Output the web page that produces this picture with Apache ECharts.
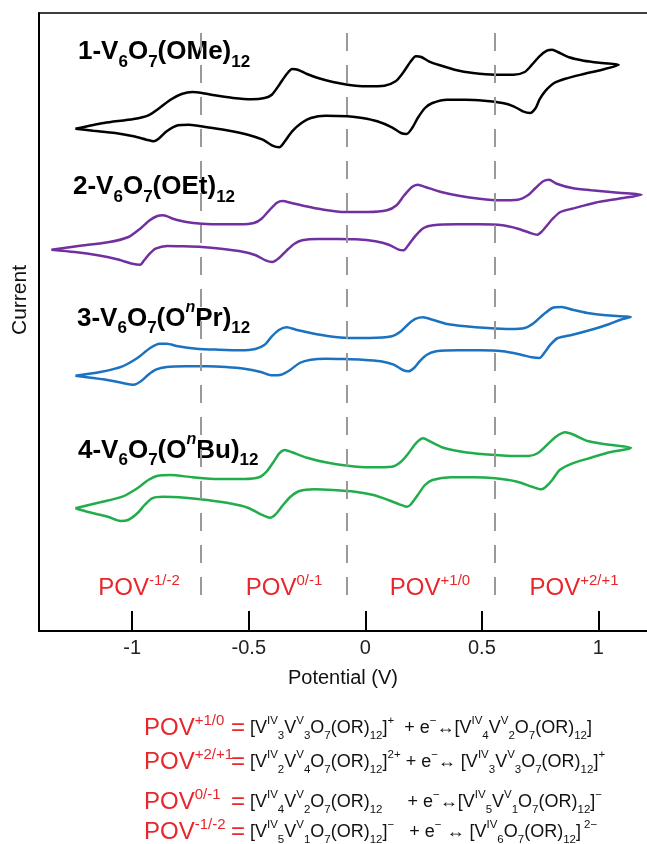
<!DOCTYPE html>
<html>
<head>
<meta charset="utf-8">
<script src="https://cdn.jsdelivr.net/npm/echarts@6/dist/echarts.min.js"></script>
<style>
  html, body { margin: 0; padding: 0; background: #fff; }
  #chart { width: 647px; height: 844px; }
</style>
</head>
<body>
<div id="chart"></div>
<script>
// cyclic voltammograms, [potential (V), current (a.u., curves offset)]
const ome = [[-1.244,499.3],[-1.121,505],[-0.994,509],[-0.931,512.7],[-0.883,520],[-0.836,528.3],[-0.788,534],[-0.741,536],[-0.701,535],[-0.646,532.7],[-0.567,530],[-0.488,528.7],[-0.432,530],[-0.401,533.3],[-0.369,543.3],[-0.337,554],[-0.314,559],[-0.290,558.3],[-0.250,554],[-0.203,550],[-0.139,546],[-0.076,543.3],[0.003,541.7],[0.082,542.3],[0.130,546.7],[0.161,555],[0.193,566],[0.217,571.7],[0.240,571],[0.272,566.7],[0.320,562.7],[0.383,558.3],[0.462,555],[0.557,553.3],[0.636,553.3],[0.684,556],[0.715,563.3],[0.747,571.7],[0.779,577.3],[0.802,578.3],[0.826,576],[0.874,570.7],[0.937,567.3],[1.016,565],[1.087,563.3],
  [1.016,558.3],[0.937,554],[0.858,549.3],[0.810,545],[0.771,536.7],[0.747,528.3],[0.731,520],[0.707,515],[0.676,516.7],[0.636,521.7],[0.589,525],[0.510,527.3],[0.430,528.3],[0.351,528.3],[0.288,525],[0.256,520],[0.225,510],[0.201,500],[0.177,494],[0.153,495],[0.114,500.7],[0.051,506.7],[-0.013,510],[-0.076,511.7],[-0.171,512.3],[-0.234,510],[-0.274,505],[-0.314,496.7],[-0.345,486.7],[-0.369,480.7],[-0.401,482.7],[-0.440,488.3],[-0.504,493.3],[-0.583,497.3],[-0.678,500.7],[-0.757,503.3],[-0.804,502.7],[-0.852,496.7],[-0.883,490],[-0.907,486.7],[-0.939,488.3],[-0.994,491.7],[-1.073,495],[-1.168,497.3],[-1.244,499.3]];

const oet = [[-1.347,378.3],[-1.231,382],[-1.098,386],[-1.016,391],[-0.966,399.3],[-0.925,407.7],[-0.892,412],[-0.867,412.7],[-0.825,409.3],[-0.768,406],[-0.701,404.3],[-0.619,403.7],[-0.536,403.7],[-0.478,405],[-0.445,409.3],[-0.412,417.7],[-0.379,425.3],[-0.354,427],[-0.321,425.3],[-0.255,421.7],[-0.188,418.7],[-0.089,416],[0.010,416],[0.093,417.7],[0.134,422.7],[0.167,432.7],[0.200,441],[0.225,443.3],[0.258,441],[0.325,436],[0.407,432],[0.490,429.3],[0.573,427.7],[0.655,428.3],[0.697,432.7],[0.730,440],[0.763,446.7],[0.788,448.3],[0.821,444.3],[0.887,440],[0.970,437.7],[1.086,435.3],[1.185,433.3],
  [1.086,429.3],[0.986,425.3],[0.887,419.3],[0.837,416],[0.804,409.3],[0.780,402.7],[0.755,396],[0.738,393.3],[0.705,395.3],[0.655,399.3],[0.589,402.7],[0.490,403.7],[0.391,403.7],[0.291,402.7],[0.250,400],[0.217,392.7],[0.189,384.3],[0.164,377.7],[0.143,378.3],[0.101,383.3],[0.043,386.7],[-0.040,388.7],[-0.122,389],[-0.205,389],[-0.271,387.7],[-0.304,384.3],[-0.337,377.7],[-0.370,370],[-0.399,366],[-0.428,367.7],[-0.470,372.7],[-0.536,376.7],[-0.619,379.3],[-0.701,381],[-0.784,381.7],[-0.850,382],[-0.900,379.3],[-0.925,374.3],[-0.949,367.7],[-0.966,363.3],[-0.999,364.3],[-1.065,368.7],[-1.148,372.7],[-1.247,376],[-1.347,378.3]];

const opr = [[-1.244,252.3],[-1.137,256],[-1.042,261.7],[-0.978,270],[-0.923,280],[-0.883,284.3],[-0.852,284.3],[-0.804,281.7],[-0.725,279.3],[-0.630,278.3],[-0.535,277.7],[-0.472,279],[-0.432,283.3],[-0.401,291.7],[-0.369,298.3],[-0.337,300.7],[-0.298,298.3],[-0.234,295],[-0.155,291.7],[-0.076,290],[0.019,290],[0.114,291.7],[0.153,296.7],[0.185,304],[0.217,309.3],[0.248,310.7],[0.288,308.3],[0.351,304],[0.430,301.7],[0.525,300],[0.620,299],[0.684,300],[0.723,305],[0.763,313.3],[0.802,320],[0.842,321],[0.889,318.3],[0.953,315],[1.032,312.7],[1.139,311],
  [1.095,308.3],[1.048,304],[0.969,298.3],[0.889,293.3],[0.826,290],[0.794,283.3],[0.771,276],[0.747,270],[0.715,270.7],[0.668,273.3],[0.589,276.7],[0.494,277.7],[0.399,277.7],[0.304,276.7],[0.264,273.3],[0.233,266.7],[0.209,260],[0.185,256.7],[0.161,258],[0.122,263.3],[0.066,266.7],[-0.013,268.3],[-0.092,269],[-0.171,269.3],[-0.234,268.3],[-0.282,265],[-0.321,258.3],[-0.361,253.3],[-0.401,252.7],[-0.448,256],[-0.519,259.3],[-0.598,261],[-0.678,261.7],[-0.773,261.7],[-0.852,261],[-0.899,258.3],[-0.931,253.3],[-0.963,246.7],[-0.994,243.3],[-1.026,244.3],[-1.089,247.3],[-1.168,250],[-1.244,252.3]];

const obu = [[-1.244,119.7],[-1.137,125.7],[-1.042,131.3],[-0.978,139.7],[-0.931,148],[-0.891,152.3],[-0.836,153],[-0.741,150.7],[-0.630,149],[-0.519,149],[-0.456,150.7],[-0.424,156.3],[-0.393,166.3],[-0.369,174.7],[-0.345,178],[-0.314,175.7],[-0.250,170.3],[-0.171,165.7],[-0.076,162.3],[0.019,160.7],[0.114,161.3],[0.153,166.3],[0.185,174.7],[0.217,184.7],[0.248,189.7],[0.280,186.3],[0.335,180.3],[0.415,176.3],[0.510,173.7],[0.605,172.3],[0.700,172],[0.739,174.7],[0.779,183],[0.818,191.3],[0.858,195.7],[0.897,193],[0.953,187],[1.032,183.7],[1.139,180.3],
  [1.127,179],[1.048,175.7],[0.969,170.3],[0.889,164.7],[0.834,158],[0.802,148],[0.775,141.3],[0.755,138.7],[0.715,141.3],[0.652,146.3],[0.557,149.7],[0.462,150.7],[0.367,150.7],[0.288,148],[0.256,143],[0.225,133],[0.193,123],[0.177,121.3],[0.146,123.7],[0.098,128],[0.035,133],[-0.044,136.3],[-0.139,138],[-0.219,138.7],[-0.282,137],[-0.321,131.3],[-0.353,123],[-0.385,113.7],[-0.409,110.3],[-0.448,113.7],[-0.504,120.3],[-0.583,124.7],[-0.678,128],[-0.773,130.3],[-0.868,131.3],[-0.915,129.7],[-0.947,123],[-0.978,114.7],[-1.018,108],[-1.050,107],[-1.105,111.3],[-1.184,115.7],[-1.244,119.7]];

const xTicks = [-1, -0.5, 0, 0.5, 1];
const dividers = [-0.705, -0.081, 0.556];
const povNames = ['-1/-2', '0/-1', '+1/0', '+2/+1'];

const RED = '#e8262b';
const FONT = 'Liberation Sans, Arial, sans-serif';

const labelRich = {
  b: { fontFamily: FONT, fontWeight: 'bold', fontSize: 26, lineHeight: 37, fill: '#000' },
  s: { fontFamily: FONT, fontWeight: 'bold', fontSize: 17, lineHeight: 17, verticalAlign: 'bottom', fill: '#000' },
  i: { fontFamily: FONT, fontWeight: 'bold', fontStyle: 'italic', fontSize: 16, lineHeight: 16, verticalAlign: 'top', fill: '#000' }
};
const redRich = {
  r: { fontFamily: FONT, fontSize: 24, lineHeight: 30, fill: RED },
  q: { fontFamily: FONT, fontSize: 15, lineHeight: 15, verticalAlign: 'top', fill: RED }
};
const eqRich = {
  t: { fontFamily: FONT, fontSize: 18, lineHeight: 27, fill: '#111' },
  u: { fontFamily: FONT, fontSize: 11.5, lineHeight: 11, verticalAlign: 'bottom', fill: '#111' },
  p: { fontFamily: FONT, fontSize: 11.5, lineHeight: 11, verticalAlign: 'top', fill: '#111' }
};

const compoundLabels = [
  { x: 78, y: 57, text: '{b|1-V}{s|6}{b|O}{s|7}{b|(OMe)}{s|12}' },
  { x: 73, y: 192, text: '{b|2-V}{s|6}{b|O}{s|7}{b|(OEt)}{s|12}' },
  { x: 77, y: 318, text: '{b|3-V}{s|6}{b|O}{s|7}{b|(O}{i|n}{b|Pr)}{s|12}' },
  { x: 78, y: 450, text: '{b|4-V}{s|6}{b|O}{s|7}{b|(O}{i|n}{b|Bu)}{s|12}' }
];
const povCenters = [139, 284, 430, 574];

const equations = [
  { y: 728, pov: '+1/0', eq: '{t|[V}{p|IV}{u|3}{t|V}{p|V}{u|3}{t|O}{u|7}{t|(OR)}{u|12}{t|]}{p|+}{t|  + e}{p|−}{t|↔[V}{p|IV}{u|4}{t|V}{p|V}{u|2}{t|O}{u|7}{t|(OR)}{u|12}{t|]}' },
  { y: 762, pov: '+2/+1', eq: '{t|[V}{p|IV}{u|2}{t|V}{p|V}{u|4}{t|O}{u|7}{t|(OR)}{u|12}{t|]}{p|2+}{t| + e}{p|−}{t|↔ [V}{p|IV}{u|3}{t|V}{p|V}{u|3}{t|O}{u|7}{t|(OR)}{u|12}{t|]}{p|+}' },
  { y: 802, pov: '0/-1', eq: '{t|[V}{p|IV}{u|4}{t|V}{p|V}{u|2}{t|O}{u|7}{t|(OR)}{u|12}{t|     + e}{p|−}{t|↔[V}{p|IV}{u|5}{t|V}{p|V}{u|1}{t|O}{u|7}{t|(OR)}{u|12}{t|]}{p|−}' },
  { y: 832, pov: '-1/-2', eq: '{t|[V}{p|IV}{u|5}{t|V}{p|V}{u|1}{t|O}{u|7}{t|(OR)}{u|12}{t|]}{p|−}{t|   + e}{p|−}{t| ↔ [V}{p|IV}{u|6}{t|O}{u|7}{t|(OR)}{u|12}{t|]}{p| 2−}' }
];

const graphics = [];
compoundLabels.forEach(l => graphics.push({
  type: 'text', left: l.x, top: l.y - 18,
  style: { text: l.text, rich: labelRich }
}));
povCenters.forEach((cx, i) => graphics.push({
  type: 'text', x: cx, y: 588,
  style: { text: '{r|POV}{q|' + povNames[i] + '}', rich: redRich, align: 'center', verticalAlign: 'middle' }
}));
equations.forEach(e => {
  graphics.push({
    type: 'text', x: 144, y: e.y,
    style: { text: '{r|POV}{q|' + e.pov + '}', rich: redRich, align: 'left', verticalAlign: 'middle' }
  });
  graphics.push({
    type: 'text', x: 231, y: e.y,
    style: { text: '{r|=}', rich: redRich, align: 'left', verticalAlign: 'middle' }
  });
  graphics.push({
    type: 'text', x: 250, y: e.y,
    style: { text: e.eq, rich: eqRich, align: 'left', verticalAlign: 'middle' }
  });
});
graphics.push({
  type: 'text', x: 20, y: 300, rotation: Math.PI / 2,
  style: { text: 'Current', fontFamily: FONT, fontSize: 21, fill: '#111', align: 'center', verticalAlign: 'middle' }
});

const xMin = -1.4, xMax = 1.2085;

const chart = echarts.init(document.getElementById('chart'));
chart.setOption({
  backgroundColor: '#fff',
  animation: false,
  grid: { left: 39, right: -2, top: 13, bottom: 213 },
  xAxis: [{
    type: 'value', min: xMin, max: xMax, position: 'bottom',
    axisLine: { onZero: false, lineStyle: { color: '#000', width: 2 } },
    axisTick: { inside: true, length: 20, customValues: xTicks, lineStyle: { color: '#000', width: 2 } },
    axisLabel: { customValues: xTicks, margin: 7, fontSize: 20, color: '#222', fontFamily: FONT },
    splitLine: { show: false },
    name: 'Potential (V)', nameLocation: 'middle', nameGap: 37,
    nameTextStyle: { fontSize: 20, color: '#111', fontFamily: FONT }
  }, {
    type: 'value', min: xMin, max: xMax, position: 'top',
    axisLine: { onZero: false, lineStyle: { color: '#000', width: 1.5 } },
    axisTick: { show: false }, axisLabel: { show: false }, splitLine: { show: false }
  }],
  yAxis: {
    type: 'value', min: -3, max: 615,
    axisLine: { show: true, onZero: false, lineStyle: { color: '#000', width: 2 } },
    axisTick: { show: false }, axisLabel: { show: false }, splitLine: { show: false }
  },
  series: [
    {
      type: 'line', data: ome, showSymbol: false, smooth: 0.25,
      lineStyle: { color: '#000', width: 2.5 },
      markLine: {
        silent: true, symbol: 'none', label: { show: false },
        lineStyle: { color: '#999', type: [18, 14], width: 2 },
        data: dividers.map(x => [{ coord: [x, 595] }, { coord: [x, 23] }])
      }
    },
    { type: 'line', data: oet, showSymbol: false, smooth: 0.25, lineStyle: { color: '#7030a0', width: 2.5 } },
    { type: 'line', data: opr, showSymbol: false, smooth: 0.25, lineStyle: { color: '#1a72c0', width: 2.5 } },
    { type: 'line', data: obu, showSymbol: false, smooth: 0.25, lineStyle: { color: '#21ad4b', width: 2.5 } }
  ],
  graphic: graphics
});
</script>
</body>
</html>
